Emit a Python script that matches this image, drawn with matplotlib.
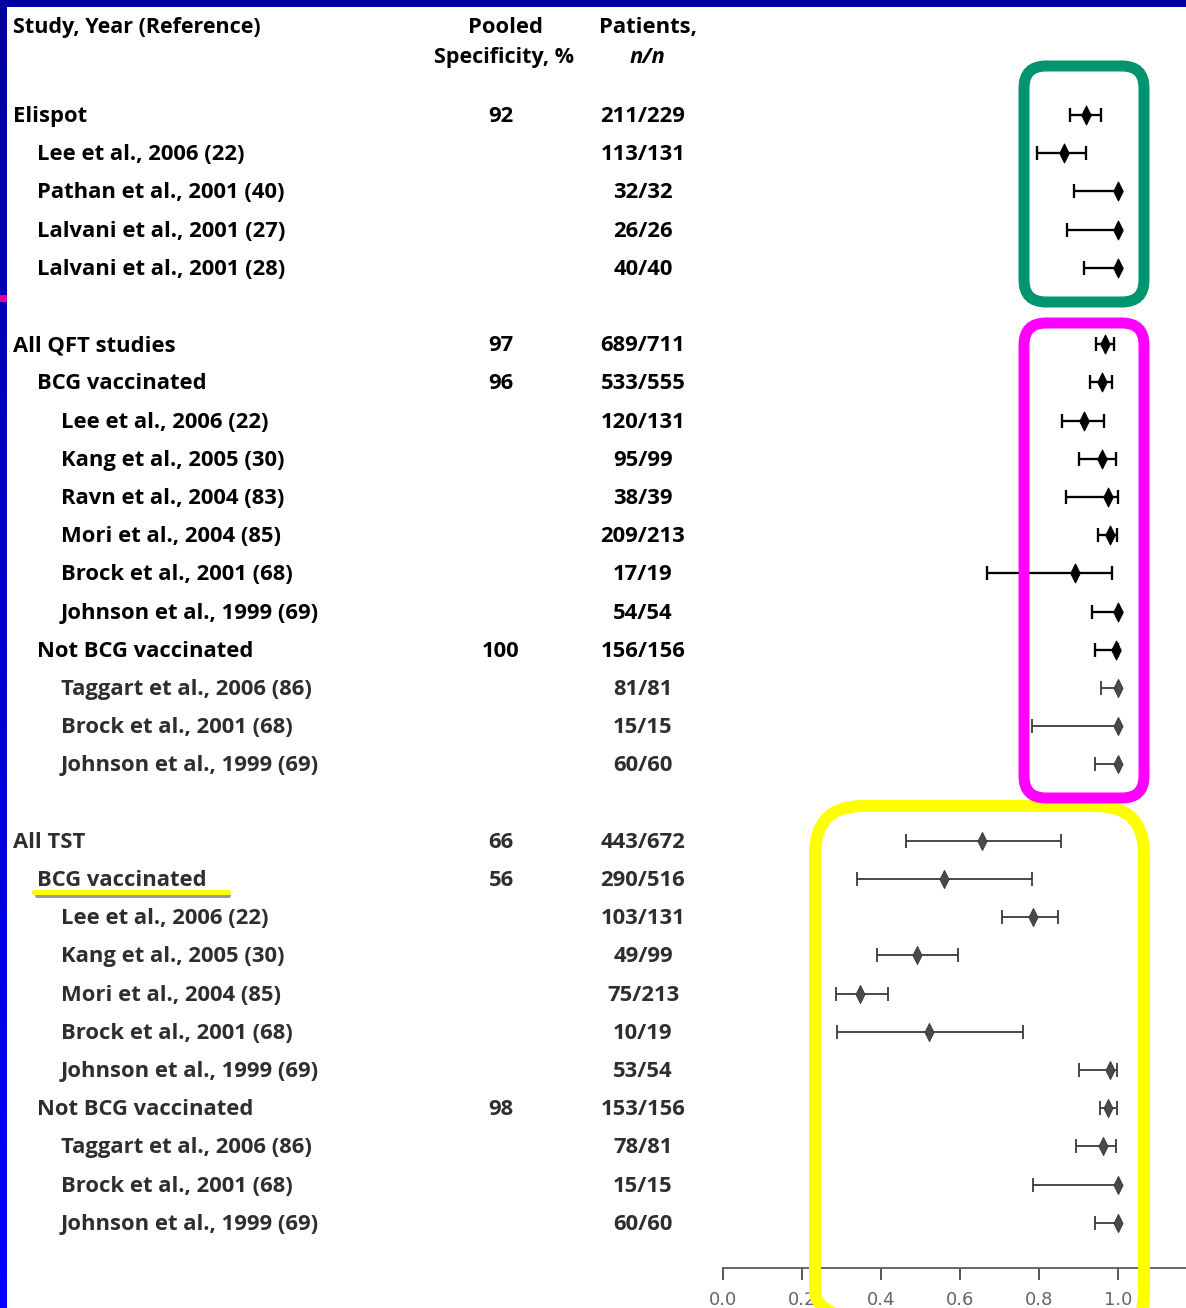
import matplotlib
matplotlib.use("Agg")
import matplotlib.pyplot as plt
import numpy as np
from matplotlib.patches import FancyBboxPatch, Rectangle
from matplotlib.path import Path
from matplotlib.colors import LinearSegmentedColormap

# ---- data -------------------------------------------------------------
study_labels = [
    "Elispot", "Lee et al., 2006 (22)", "Pathan et al., 2001 (40)",
    "Lalvani et al., 2001 (27)", "Lalvani et al., 2001 (28)",
    "All QFT studies", "BCG vaccinated", "Lee et al., 2006 (22)",
    "Kang et al., 2005 (30)", "Ravn et al., 2004 (83)", "Mori et al., 2004 (85)",
    "Brock et al., 2001 (68)", "Johnson et al., 1999 (69)", "Not BCG vaccinated",
    "Taggart et al., 2006 (86)", "Brock et al., 2001 (68)", "Johnson et al., 1999 (69)",
    "All TST", "BCG vaccinated", "Lee et al., 2006 (22)", "Kang et al., 2005 (30)",
    "Mori et al., 2004 (85)", "Brock et al., 2001 (68)", "Johnson et al., 1999 (69)",
    "Not BCG vaccinated", "Taggart et al., 2006 (86)", "Brock et al., 2001 (68)",
    "Johnson et al., 1999 (69)",
]
indent_levels = [0, 1, 1, 1, 1,
                 0, 1, 2, 2, 2, 2, 2, 2, 1, 2, 2, 2,
                 0, 1, 2, 2, 2, 2, 2, 1, 2, 2, 2]
pooled_pct = ["92", "", "", "", "",
              "97", "96", "", "", "", "", "", "", "100", "", "", "",
              "66", "56", "", "", "", "", "", "98", "", "", ""]
patients = ["211/229", "113/131", "32/32", "26/26", "40/40",
            "689/711", "533/555", "120/131", "95/99", "38/39", "209/213",
            "17/19", "54/54", "156/156", "81/81", "15/15", "60/60",
            "443/672", "290/516", "103/131", "49/99", "75/213", "10/19",
            "53/54", "153/156", "78/81", "15/15", "60/60"]
specificity = [0.920, 0.863, 1.000, 1.000, 1.000,
               0.967, 0.960, 0.914, 0.960, 0.974, 0.981, 0.891, 1.000,
               0.996, 1.000, 1.000, 1.000,
               0.656, 0.559, 0.786, 0.491, 0.347, 0.522, 0.981,
               0.975, 0.962, 1.000, 1.000]
ci_low = [0.878, 0.795, 0.889, 0.871, 0.914,
          0.944, 0.930, 0.858, 0.901, 0.868, 0.949, 0.668, 0.934,
          0.942, 0.957, 0.782, 0.942,
          0.463, 0.339, 0.706, 0.390, 0.286, 0.288, 0.901,
          0.954, 0.894, 0.785, 0.942]
ci_high = [0.957, 0.920, 1.000, 1.000, 1.000,
           0.990, 0.985, 0.965, 0.995, 0.999, 0.997, 0.985, 1.000,
           1.000, 1.000, 1.000, 1.000,
           0.856, 0.782, 0.848, 0.595, 0.418, 0.760, 0.998,
           0.998, 0.995, 1.000, 1.000]
axis_ticks = [0.0, 0.2, 0.4, 0.6, 0.8, 1.0]
axis_tick_labels = ["0.0", "0.2", "0.4", "0.6", "0.8", "1.0"]

# ---- layout -----------------------------------------------------------
W, H = 1186, 1308
DPI = 100
PT = 72.0 / DPI                      # points per pixel

FIRST_ROW_Y = 115.0
ROW_STEP = 38.2
X0_PX, X1_PX = 723.0, 1118.0         # pixel positions of 0.0 and 1.0
AXIS_Y_PX = 1268.0
FADED_FROM = 14                      # rows from here on are printed lighter

rows = np.array([i + (i >= 5) + (i >= 17) for i in range(len(study_labels))])

font = ["Open Sans", "DejaVu Sans"]
plt.rcParams["font.family"] = font

# slim diamond used for the point estimates
diamond = Path([(0, 1), (0.5, 0), (0, -1), (-0.5, 0), (0, 1)],
               [Path.MOVETO, Path.LINETO, Path.LINETO, Path.LINETO, Path.CLOSEPOLY])

fig = plt.figure(figsize=(W / DPI, H / DPI), dpi=DPI)
fig.patch.set_facecolor("white")

# forest axes: x in proportion units, y in row units
unit = X1_PX - X0_PX
fx = fig.add_axes([X0_PX / W, (H - AXIS_Y_PX) / H, (W - X0_PX) / W, AXIS_Y_PX / H])
fx.set_xlim(0.0, (W - X0_PX) / unit)
fx.set_ylim((AXIS_Y_PX - FIRST_ROW_Y) / ROW_STEP, -FIRST_ROW_Y / ROW_STEP)
fx.patch.set_alpha(0)
for side in ("top", "right", "left"):
    fx.spines[side].set_visible(False)
fx.spines["bottom"].set_color("#666666")
fx.spines["bottom"].set_linewidth(1.4)
fx.set_yticks([])
fx.set_xticks(axis_ticks)
fx.set_xticklabels(axis_tick_labels, fontsize=13, color="#666666",
                   family=["DejaVu Sans"])
fx.tick_params(axis="x", direction="out", length=12 * PT, width=1.4,
               color="#555555", pad=8)

for i, r in enumerate(rows):
    faded = i >= FADED_FROM
    lc = "#3a3a3a" if faded else "black"
    lw = (1.8 if faded else 2.3) * PT
    est, lo, hi = specificity[i], ci_low[i], ci_high[i]
    fx.errorbar([est], [r], xerr=[[est - lo], [hi - est]], fmt="none",
                ecolor=lc, elinewidth=lw, capsize=7 * PT, capthick=lw, zorder=2)
    fx.plot([est], [r], marker=diamond, linestyle="none",
            markersize=(18 if faded else 19) * PT,
            markerfacecolor=("#4a4a4a" if faded else "black"),
            markeredgecolor=lc, markeredgewidth=0.7, zorder=3)

# overlay axes in pixel coordinates for text and decorations
ax = fig.add_axes([0, 0, 1, 1], zorder=5)
ax.set_xlim(0, W)
ax.set_ylim(H, 0)
ax.axis("off")
ax.patch.set_alpha(0)

FS = 15.8
TY = 1.5   # small downward nudge of the text baseline
# column headers
ax.text(13, 26 + TY, "Study, Year (Reference)", fontsize=15.5, fontweight="bold",
        ha="left", va="center")
ax.text(506, 26 + TY, "Pooled", fontsize=FS, fontweight="bold", ha="center", va="center")
ax.text(504, 56 + TY, "Specificity, %", fontsize=15.5, fontweight="bold",
        ha="center", va="center")
ax.text(648, 26 + TY, "Patients,", fontsize=FS, fontweight="bold", ha="center", va="center")
ax.text(647, 56 + TY, "n/n", fontsize=FS, fontweight="bold", style="italic",
        ha="center", va="center")

indent_px = [13, 37, 61]
for i, r in enumerate(rows):
    y = FIRST_ROW_Y + r * ROW_STEP + TY
    tc = "#2e2e2e" if i >= FADED_FROM else "black"
    ax.text(indent_px[indent_levels[i]], y, study_labels[i], fontsize=FS,
            fontweight="bold", color=tc, ha="left", va="center")
    if pooled_pct[i]:
        ax.text(501, y, pooled_pct[i], fontsize=FS, fontweight="bold", color=tc,
                ha="center", va="center")
    ax.text(643, y, patients[i], fontsize=FS, fontweight="bold", color=tc,
            ha="center", va="center")

# highlight under the TST "BCG vaccinated" subgroup
y_ul = FIRST_ROW_Y + rows[18] * ROW_STEP + 13
ax.plot([37, 229], [y_ul + 4, y_ul + 4], color="#9a9a9a", lw=4 * PT,
        solid_capstyle="round")
ax.plot([34, 228], [y_ul, y_ul], color="#ffff00", lw=5 * PT,
        solid_capstyle="round")

# rounded frames around the three groups of estimates
def frame(x0, y0, x1, y1, color, lw_px, rad):
    ax.add_patch(FancyBboxPatch((x0, y0), x1 - x0, y1 - y0,
                                boxstyle=f"round,pad=0,rounding_size={rad}",
                                fill=False, edgecolor=color, linewidth=lw_px * PT,
                                zorder=6))

frame(815, 806, 1144, 1340, "#ffff00", 12, 48)
frame(1024, 323, 1144, 798, "#ff00ff", 11, 22)
frame(1024, 66, 1144, 302, "#00956e", 11, 22)

# slide border
grad = np.linspace(0, 1, 256).reshape(-1, 1)
blue_cmap = LinearSegmentedColormap.from_list("b", ["#00009a", "#0000ff"])
ax.imshow(grad, cmap=blue_cmap, extent=[0, 7, H, 0], aspect="auto", zorder=7)
ax.add_patch(Rectangle((0, 0), W, 7, color="#0000a0", lw=0, zorder=7))
ax.add_patch(Rectangle((0, 295), 7, 7, color="#e000a0", lw=0, zorder=8))
ax.set_xlim(0, W)
ax.set_ylim(H, 0)

fig.savefig("out.png", dpi=DPI, facecolor="white")
